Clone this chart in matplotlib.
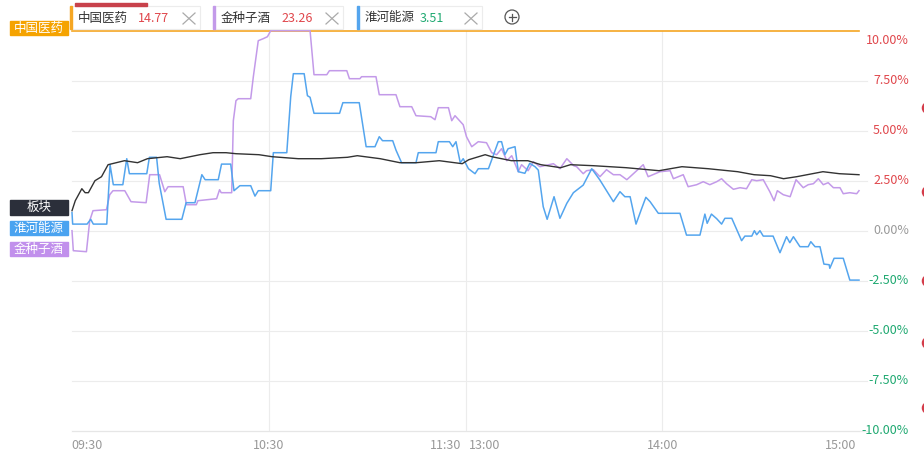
import matplotlib
matplotlib.use("Agg")
import matplotlib.pyplot as plt
from matplotlib.patches import Rectangle, Ellipse
from matplotlib.lines import Line2D

plt.rcParams['font.family'] = ['Noto Sans CJK SC', 'DejaVu Sans']

W, H = 924, 458

# trading minutes from 09:30 (11:30 and 13:00 both at 120)
board_t = [0, 1, 3, 4, 5, 7, 9, 11, 16, 20, 23, 29, 33, 39, 43, 47, 50, 57, 61, 69, 76,
           84, 87, 94, 100, 105, 112, 119, 121, 126, 128, 134, 139, 143, 149, 152, 159,
           169, 179, 186, 194, 203, 208, 213, 217, 221, 229, 234, 240]
board_v = [1.0, 1.5, 2.1, 1.9, 1.9, 2.5, 2.7, 3.3, 3.5, 3.4, 3.6, 3.7, 3.6, 3.8, 3.9, 3.9,
           3.85, 3.8, 3.7, 3.6, 3.6, 3.67, 3.75, 3.6, 3.4, 3.4, 3.5, 3.35, 3.55, 3.8, 3.7,
           3.5, 3.5, 3.3, 3.15, 3.3, 3.25, 3.15, 3.0, 3.2, 3.1, 2.95, 2.8, 2.75, 2.6, 2.7,
           2.95, 2.85, 2.8]

jzz_t = [0, 0.4, 4.4, 5.4, 6.4, 10.5, 11.5, 12.5, 16.1, 18.0, 22.6, 23.7, 26.7, 28.3, 29.3,
         33.9, 34.9, 37.9, 38.4, 44.1, 45.0, 45.5, 48.7, 49.2, 50.0, 50.7, 54.5, 55.3, 56.8,
         58.3, 59.6, 60.6, 72.6, 73.8, 77.7, 78.5, 83.8, 84.6, 87.8, 88.3, 92.7, 93.7, 98.8,
         100, 103.6, 104.9, 109.4, 110.7, 111.7, 114.8, 115.8, 116.8, 119.3, 120.3, 121.9,
         123.9, 126.4, 128, 129.5, 131, 132.6, 134.1, 136.1, 137.1, 139.1, 140.7, 142.7,
         146.8, 148.8, 150.9, 153, 153.9, 155.9, 156.9, 159, 161, 163, 165.1, 167.1, 169.2,
         171.2, 174.2, 175.7, 179.3, 182.4, 183.4, 186.4, 187.9, 190.5, 192.5, 194.5, 196.6,
         198.1, 199.6, 201.7, 203.7, 205.7, 207.3, 208.8, 210.8, 212.8, 214.1, 215.1, 216.9,
         219, 220.8, 223, 224.5, 226.1, 227.6, 229.1, 230.6, 232.2, 234.2, 235.2, 237.2,
         239.3, 240]
jzz_v = [0.0, -1.0, -1.05, 0.5, 1.0, 1.05, 1.8, 2.0, 2.0, 1.45, 1.4, 2.8, 2.8, 1.95, 2.2,
         2.2, 1.3, 1.3, 1.5, 1.6, 2.05, 1.9, 1.9, 5.5, 6.5, 6.6, 6.6, 7.7, 9.5, 9.6, 9.7,
         10.0, 10.0, 7.8, 7.8, 8.0, 8.0, 7.6, 7.6, 7.7, 7.7, 6.8, 6.8, 6.2, 6.2, 5.75, 5.7,
         5.55, 6.15, 6.15, 5.5, 5.75, 5.3, 4.7, 4.2, 4.45, 4.4, 3.9, 3.8, 4.1, 3.5, 3.75,
         2.95, 3.3, 3.0, 3.45, 3.2, 3.35, 3.1, 3.6, 3.25, 3.2, 2.85, 3.0, 3.05, 2.7, 3.05,
         2.8, 2.8, 2.55, 2.85, 3.3, 2.7, 2.95, 3.0, 2.6, 2.8, 2.2, 2.3, 2.45, 2.3, 2.45,
         2.6, 2.35, 2.07, 2.15, 2.1, 2.55, 2.5, 2.55, 1.95, 1.5, 2.0, 1.8, 1.7, 2.55, 2.15,
         2.3, 2.35, 2.6, 2.3, 2.4, 2.15, 2.15, 1.85, 1.9, 1.85, 2.0]

hh_t = [0, 0.2, 4.6, 5.7, 6.5, 10.6, 11.6, 12.6, 15.5, 16.7, 17.5, 22.8, 23.6, 25.8, 26.6,
        28.7, 33.5, 34.8, 37.5, 39.6, 40.6, 44.6, 45.6, 48.4, 49.4, 51.2, 54.5, 55.8, 56.8,
        60.6, 61.4, 65.5, 66.7, 67.5, 70.8, 71.8, 72.6, 73.8, 81.6, 82.6, 87.6, 89.7, 92.4,
        93.7, 94.7, 97.8, 98.8, 100.5, 104.9, 105.6, 111, 111.7, 115.1, 116.1, 117.1, 118.4,
        119.3, 120.9, 122.9, 123.9, 127, 130, 131, 132, 133, 135.1, 136.1, 138.1, 139.6,
        141.2, 142.2, 143.7, 144.9, 147, 148.8, 150.9, 152.9, 155.9, 158.5, 161, 165.1,
        167.1, 168.6, 170.2, 172, 173.7, 175, 176.3, 178.8, 185.4, 187.4, 191.5, 193, 193.7,
        195, 196.6, 198.1, 199.1, 201.2, 204.2, 205.2, 207.3, 208.1, 208.8, 209.8, 210.8,
        213.8, 215.9, 217.9, 218.9, 220, 222, 224.5, 225.3, 226.6, 228.1, 229.3, 230.9,
        231.1, 232.4, 235.2, 237.2, 240]
hh_v = [0.9, 0.33, 0.33, 0.57, 0.33, 0.33, 3.3, 2.3, 2.3, 3.6, 2.85, 2.85, 3.67, 3.67, 2.37,
        0.57, 0.57, 1.4, 1.4, 2.8, 2.55, 2.55, 3.33, 3.33, 2.0, 2.25, 2.25, 1.73, 2.0, 2.0,
        3.9, 3.9, 6.7, 7.85, 7.85, 6.75, 6.67, 5.87, 5.87, 6.4, 6.4, 4.2, 4.2, 4.7, 4.5, 4.5,
        4.03, 3.4, 3.4, 3.9, 3.9, 4.45, 4.45, 4.2, 4.45, 3.4, 3.6, 3.1, 2.85, 3.1, 3.1, 4.45,
        4.45, 3.8, 4.1, 4.2, 2.95, 2.87, 3.37, 3.2, 3.03, 1.2, 0.57, 1.7, 0.62, 1.37, 1.9,
        2.28, 3.1, 2.53, 1.45, 1.95, 1.7, 1.7, 0.33, 1.1, 1.67, 1.45, 0.87, 0.87, -0.22,
        -0.22, 0.83, 0.37, 0.83, 0.6, 0.33, 0.62, 0.62, -0.5, -0.27, -0.27, 0.0, -0.2, 0.0,
        -0.27, -0.27, -1.1, -0.3, -0.6, -0.3, -0.8, -0.8, -0.55, -0.8, -0.8, -1.67, -1.7,
        -1.88, -1.38, -1.38, -2.47, -2.47]

zgyy_t = [0, 240]
zgyy_v = [10.0, 10.0]

xtick_pos = [0, 60, 120, 120, 180, 240]
xtick_lab = ['09:30', '10:30', '11:30', '13:00', '14:00', '15:00']
ytick_pos = [10, 7.5, 5, 2.5, 0, -2.5, -5, -7.5, -10]
ytick_lab = ['10.00%', '7.50%', '5.00%', '2.50%', '0.00%', '-2.50%', '-5.00%', '-7.50%', '-10.00%']

tab_names = ['中国医药', '金种子酒', '淮河能源']
tab_prices = ['14.77', '23.26', '3.51']

c_orange = '#f5a623'
c_purple = '#c39ae9'
c_blue = '#54a5ee'
c_black = '#333333'
c_red = '#e0474c'
c_green = '#1fa971'


def fx(x):
    return x / W


def fy(y):
    return 1 - y / H


fig = plt.figure(figsize=(W / 100, H / 100), dpi=100)
fig.patch.set_facecolor('white')
ax = fig.add_axes([fx(72), fy(430.7), 787 / W, 400 / H])
ax.set_xlim(0, 240)
ax.set_ylim(-10, 10)
ax.set_facecolor('white')

for v in ytick_pos[1:]:
    ax.axhline(v, color='#ececec', lw=0.8, zorder=0, xmax=1.01, clip_on=False)
for t in [60, 120, 180]:
    ax.axvline(t, color='#ececec', lw=0.8, zorder=0)

ax.plot(zgyy_t, zgyy_v, color=c_orange, lw=1.2, clip_on=False, zorder=3)
ax.plot(jzz_t, jzz_v, color=c_purple, lw=1.1, clip_on=False, zorder=3)
ax.plot(hh_t, hh_v, color=c_blue, lw=1.1, clip_on=False, zorder=4)
ax.plot(board_t, board_v, color=c_black, lw=1.0, clip_on=False, zorder=5)

for s in ['top', 'left', 'right']:
    ax.spines[s].set_visible(False)
ax.spines['bottom'].set_color('#e6e6e6')
ax.spines['bottom'].set_linewidth(0.8)
ax.set_xticks([])
ax.set_yticks([])

# time labels under the axis
x_ha = ['left', 'center', 'right', 'left', 'center', 'right']
x_dx = [-0.7, 0, -3.2, 2.2, 0, -2.2]
for t, lab, ha, dx in zip(xtick_pos, xtick_lab, x_ha, x_dx):
    ax.annotate(lab, (t, 0), xycoords=ax.get_xaxis_transform(), xytext=(dx, -11),
                textcoords='offset points', ha=ha, va='center', fontsize=9, color='#999999')

# right axis labels
for v, lab in zip(ytick_pos, ytick_lab):
    col = c_red if v > 0 else (c_green if v < 0 else '#999999')
    yy = v - 0.5 if v == 10 else v
    ax.text((909 - 72) / 787, yy, lab, transform=ax.get_yaxis_transform(),
            ha='right', va='center', fontsize=9, color=col)


def tag(x0, y0, x1, y1, color, text):
    fig.patches.append(Rectangle((fx(x0), fy(y1)), fx(x1 - x0), (y1 - y0) / H,
                                 transform=fig.transFigure, color=color, zorder=5))
    fig.text(fx((x0 + x1) / 2), fy((y0 + y1) / 2), text, ha='center', va='center',
             fontsize=9, color='white', zorder=6)


tag(10, 21, 68, 35, '#f5a300', '中国医药')
tag(10, 200, 68, 215, '#2b2f3a', '板块')
tag(10, 221, 68, 235, '#4aa3f0', '淮河能源')
tag(10, 242, 68, 256, '#c190ec', '金种子酒')

# top tabs
tabs = [(70, 200, c_orange, c_red), (213, 343, c_purple, c_red), (357, 482, c_blue, c_green)]
for (x0, x1, bc, pc), name, price in zip(tabs, tab_names, tab_prices):
    fig.patches.append(Rectangle((fx(x0), fy(29)), fx(x1 - x0), 23 / H, transform=fig.transFigure,
                                 facecolor='white', edgecolor='#ececec', lw=0.8))
    fig.patches.append(Rectangle((fx(x0), fy(29)), fx(2), 23 / H, transform=fig.transFigure,
                                 color=bc))
    fig.text(fx(x0 + 8), fy(18), name, ha='left', va='center', fontsize=9, color='#333333')
    fig.text(fx(x1 - 62), fy(18), price, ha='left', va='center', fontsize=9, color=pc)
    cx = x1 - 11
    fig.add_artist(Line2D([fx(cx - 6), fx(cx + 6)], [fy(13), fy(24)], color='#aaaaaa', lw=0.9))
    fig.add_artist(Line2D([fx(cx - 6), fx(cx + 6)], [fy(24), fy(13)], color='#aaaaaa', lw=0.9))

fig.patches.append(Rectangle((fx(75), fy(5.5)), fx(72), 2.5 / H, transform=fig.transFigure,
                             color='#c8414b'))

# add button
fig.add_artist(Ellipse((fx(512), fy(17)), 14 / W, 14 / H, transform=fig.transFigure,
                       facecolor='none', edgecolor='#555555', lw=0.9))
fig.add_artist(Line2D([fx(508.5), fx(515.5)], [fy(17), fy(17)], color='#555555', lw=0.9))
fig.add_artist(Line2D([fx(512), fx(512)], [fy(13.5), fy(20.5)], color='#555555', lw=0.9))

# cut-off markers at right edge
for yy in [108, 192, 281, 343, 408]:
    fig.add_artist(Ellipse((fx(928), fy(yy)), 10 / W, 10 / H, transform=fig.transFigure,
                           facecolor='none', edgecolor='#d43c4a', lw=1.8))

fig.savefig('out.png', dpi=100)
